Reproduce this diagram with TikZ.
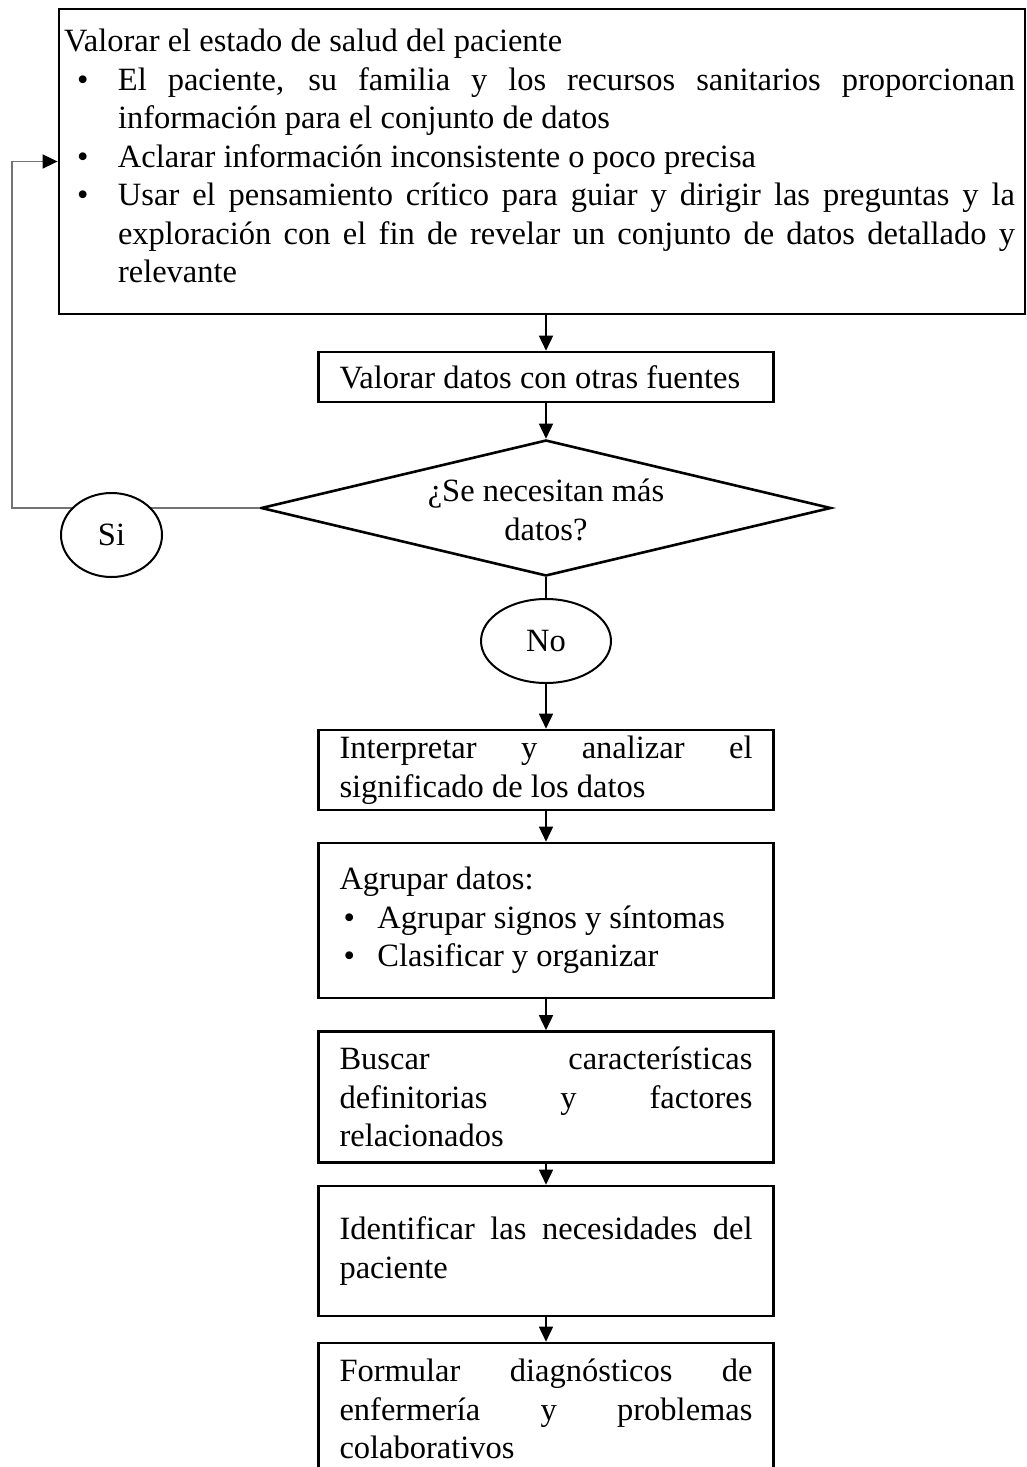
\documentclass[tikz,border=0pt]{standalone}
\usepackage{fontspec}
\setmainfont{Liberation Serif}
\usetikzlibrary{arrows.meta,shapes.geometric}
\newcommand\blt{\makebox[54pt][l]{\hspace*{13pt}\textbullet}}
\newcommand\bltb{\makebox[38pt][l]{\hspace*{4pt}\textbullet}}
\newcommand\indt{\hspace*{54pt}}
\newcommand\nsp{\spaceskip=0pt\xspaceskip=0pt\relax}
\newcommand\jline[2]{{\nsp\makebox[#1][s]{#2}}}
\begin{document}
\begin{tikzpicture}[x=1pt,y=-1pt,
  every node/.style={font=\fontsize{32.5}{38.5}\selectfont},
  flowbox/.style={draw, line width=2.6pt, rectangle, minimum width=455pt, text width=413pt, inner xsep=21pt, inner ysep=0pt, align=left},
  conn/.style={line width=1.5pt, -{Triangle[length=15pt,width=14pt]}},
  plainline/.style={line width=1.5pt},
  oval/.style={draw, ellipse, line width=2pt, fill=white, inner sep=0pt},
  loopline/.style={line width=1.8pt, draw=black!55, -{Triangle[length=15pt,width=14pt,color=black]}}
]
\fill[white] (0,0) rectangle (1026,1467);
\useasboundingbox (0,0) rectangle (1026,1467);

% top box
\node[draw, line width=2.8pt, minimum width=966pt, minimum height=305pt, inner sep=0pt] (top) at (542,161.5) {};
\node[text width=951pt, inner sep=0pt, align=left] (toptext) at (539.5,156) {\nsp
Valorar el estado de salud del paciente\\
\blt\jline{897pt}{El paciente, su familia y los recursos sanitarios proporcionan}\\
\indt información para el conjunto de datos\\
\blt Aclarar información inconsistente o poco precisa\\
\blt\jline{897pt}{Usar el pensamiento crítico para guiar y dirigir las preguntas y la}\\
\indt\jline{897pt}{exploración con el fin de revelar un conjunto de datos detallado y}\\
\indt relevante};

\node[flowbox, minimum height=50pt] (b2) at (546,377) {\nsp Valorar datos con otras fuentes};

\node[diamond, draw, line width=2.6pt, minimum width=570pt, minimum height=136pt, inner sep=0pt, aspect=4.2] (dia) at (546,508) {};
\node[align=center, inner sep=0pt] (diat) at (546,510) {\nsp ¿Se necesitan más\\datos?};

\node[flowbox, minimum height=80pt] (b3) at (546,770) {\nsp\jline{413pt}{Interpretar y analizar el}\\significado de los datos};
\node[flowbox, minimum height=155pt] (b4) at (546,920.5) {\nsp Agrupar datos:\\\bltb Agrupar signos y síntomas\\\bltb Clasificar y organizar};
\node[flowbox, minimum height=131pt] (b5) at (546,1097) {\nsp\jline{413pt}{Buscar características}\\\jline{413pt}{definitorias y factores}\\relacionados};
\node[flowbox, minimum height=130pt] (b6) at (546,1251) {\nsp\jline{413pt}{Identificar las necesidades del}\\paciente};
\node[flowbox, minimum height=132pt] (b7) at (546,1409) {\nsp\jline{413pt}{Formular diagnósticos de}\\\jline{413pt}{enfermería y problemas}\\colaborativos};

% loop back
\coordinate (lp) at (12,508);
\draw[loopline] (dia.west) -- (lp) |- (top.west);

\node[oval, minimum width=101pt, minimum height=84pt] (si) at (111.5,535) {Si};
\node[oval, minimum width=130pt, minimum height=84pt] (no) at (546,641) {No};

% connectors
\draw[conn] (b2.north |- top.south) -- (b2.north);
\draw[conn] (b2.south) -- (dia.north);
\draw[plainline] (dia.south) -- (no.north);
\draw[conn] (no.south) -- (b3.north);
\draw[conn] (b3.south) -- (b4.north);
\draw[conn] (b4.south) -- (b5.north);
\draw[conn] (b5.south) -- (b6.north);
\draw[conn] (b6.south) -- (b7.north);
\end{tikzpicture}
\end{document}
